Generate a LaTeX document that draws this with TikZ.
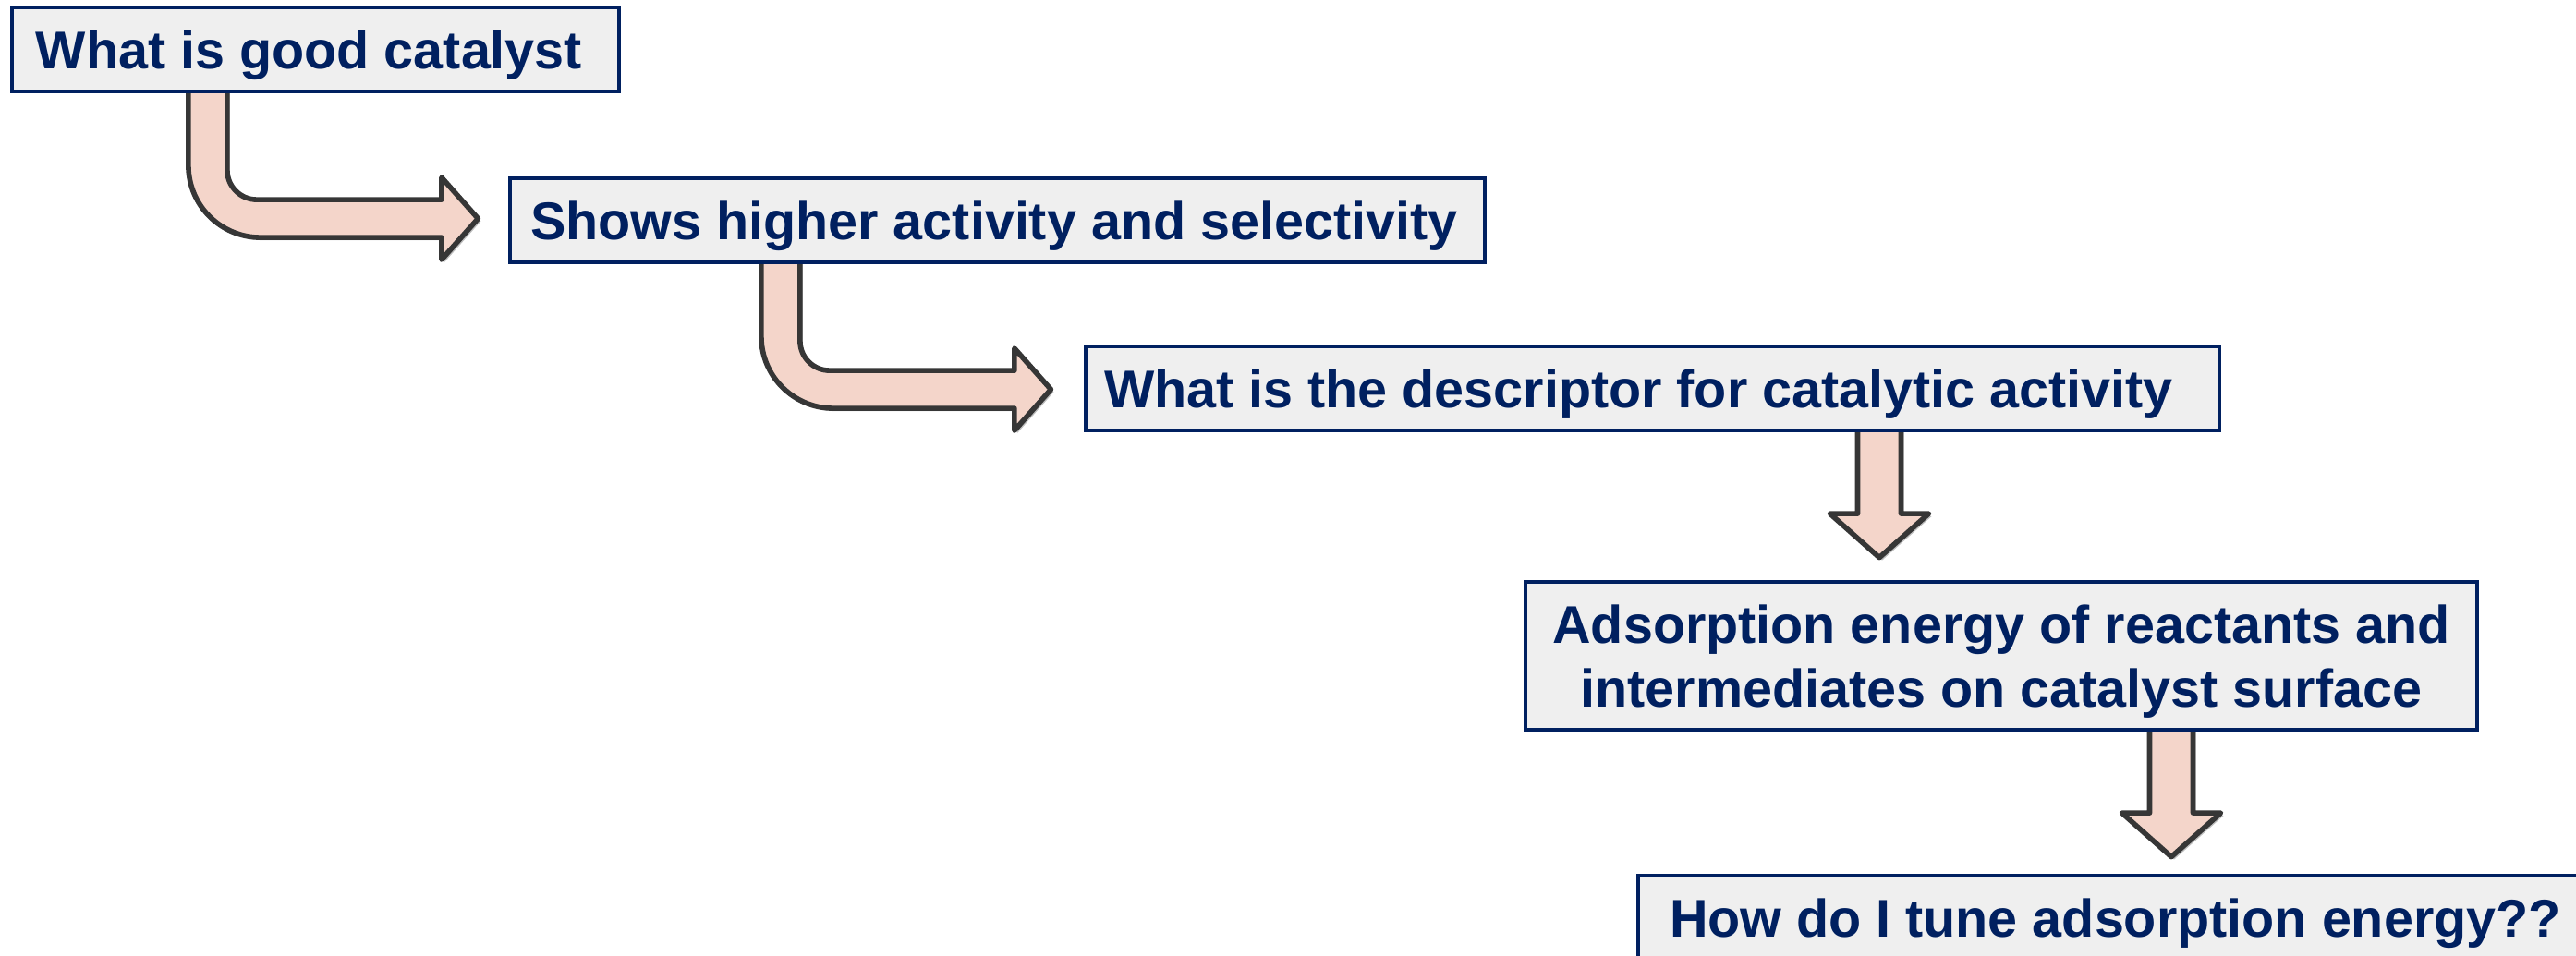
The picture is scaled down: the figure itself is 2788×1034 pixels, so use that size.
\documentclass[tikz,border=0pt]{standalone}
\usepackage{fontspec}
\setmainfont{Liberation Sans}
\usetikzlibrary{shadows,backgrounds}
\definecolor{navy}{HTML}{002060}
\definecolor{boxgray}{HTML}{EFEFEF}
\definecolor{peach}{HTML}{F4D5CA}
\definecolor{arrowline}{HTML}{363636}
\newcommand\boxtxt[3]{\makebox[#1][l]{\hspace*{#2}#3}}
\newcommand\bentarrow{\path[fatarrow] (0,-4) -- (42,-4) -- (42,83.5) .. controls (42,101.2) and (56.3,115.5) .. (74,115.5) -- (274,115.5) -- (274,91.5) -- (313.5,136) -- (274,180.5) -- (274,156.5) -- (78,156.5) .. controls (34.9,156.5) and (0,121.6) .. (0,78.5) -- cycle;}
\newcommand\downarrowshape{\path[fatarrow] (-23.5,-4) -- (23.5,-4) -- (23.5,88.5) -- (53.5,88.5) -- (0,136) -- (-53.5,88.5) -- (-23.5,88.5) -- cycle;}
\begin{document}
\begin{tikzpicture}[x=0.5pt,y=-0.5pt,
  textbox/.style={draw=navy, line width=1.6pt, fill=boxgray, text=navy,
    font=\fontsize{28.75}{34.5}\selectfont\bfseries, inner sep=0pt,
    minimum height=45.5pt, text depth=0pt},
  fatarrow/.style={fill=peach, draw=arrowline, line width=2.8pt, line join=round,
    drop shadow={shadow xshift=1.5pt, shadow yshift=-1.5pt, opacity=0.25, fill=black}}]
\useasboundingbox (0,0) rectangle (2788,1034);
\clip (0,0) rectangle (2788,1034);
\begin{pgfonlayer}{background}
\fill[white] (0,0) rectangle (2788,1034);
\end{pgfonlayer}

\node[textbox] (b1) at (341.5,53.5) {\boxtxt{328.5pt}{13pt}{What is good catalyst}};
\node[textbox] (b2) at (1079.5,238.5) {\boxtxt{527.5pt}{11pt}{Shows higher activity and selectivity}};
\node[textbox] (b3) at (1788.5,420.5) {\boxtxt{613.5pt}{10pt}{What is the descriptor for catalytic activity}};
\node[textbox, align=center, minimum width=515pt, minimum height=80pt] (b4) at (2166,710)
  {Adsorption energy of reactants and\\intermediates on catalyst surface};
\node[textbox] (b5) at (2289,993.5) {\boxtxt{516pt}{17pt}{How do I tune adsorption energy??}};

\coordinate (a1) at ([xshift=96.25pt]b1.south west);
\coordinate (a2) at ([xshift=136.75pt]b2.south west);
\coordinate (d1) at ([xshift=122.75pt]b3.south);
\coordinate (d2) at ([xshift=92pt]b4.south);

\begin{pgfonlayer}{background}
\begin{scope}[shift={(a1)}]\bentarrow\end{scope}
\begin{scope}[shift={(a2)}]\bentarrow\end{scope}
\begin{scope}[shift={(d1)}]\downarrowshape\end{scope}
\begin{scope}[shift={(d2)}]\downarrowshape\end{scope}
\end{pgfonlayer}
\end{tikzpicture}
\end{document}
